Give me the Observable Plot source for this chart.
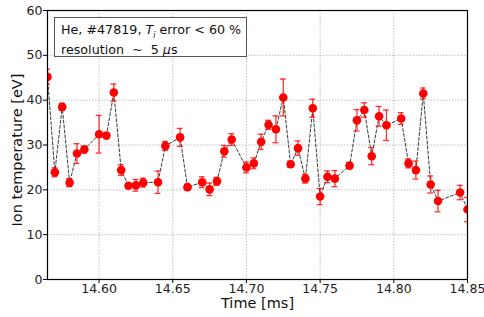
<!DOCTYPE html>
<html><head><meta charset="utf-8">
<script src="https://cdn.jsdelivr.net/npm/d3@7"></script>
<script src="https://cdn.jsdelivr.net/npm/@observablehq/plot@0.6"></script>
<style>
body{margin:0;background:#fff;font-family:"DejaVu Sans",sans-serif;}
#wrap{position:relative;width:484px;height:317px;}
#legend{position:absolute;left:54px;top:17px;width:179px;height:28px;border:1px solid #555;background:#fff;font-size:12.7px;line-height:14px;padding:5px 6px 5px 6px;color:#111;white-space:nowrap;}
</style>
</head><body>
<div id="wrap"><div id="legend">He, #47819, <i>T<sub style="font-size:8px">i</sub></i> error &lt; 60 %<br>resolution &nbsp;~&nbsp; 5 <i>μ</i>s</div></div>
<script>
const times = [14.565,14.570,14.575,14.580,14.585,14.590,14.600,14.605,14.610,14.615,14.620,14.625,14.630,14.640,14.645,14.655,14.660,14.670,14.675,14.680,14.685,14.690,14.700,14.705,14.710,14.715,14.720,14.725,14.730,14.735,14.740,14.745,14.750,14.755,14.760,14.770,14.775,14.780,14.785,14.790,14.795,14.805,14.810,14.815,14.820,14.825,14.830,14.845,14.850];
const temps = [45.2,23.9,38.5,21.6,28.1,29.0,32.4,32.1,41.7,24.4,20.9,21.0,21.6,21.7,29.8,31.7,20.6,21.7,20.1,21.9,28.6,31.2,25.0,25.9,30.7,34.5,33.5,40.6,25.7,29.3,22.5,38.2,18.5,22.9,22.5,25.4,35.5,37.8,27.5,36.4,34.4,35.9,25.9,24.4,41.5,21.2,17.5,19.4,15.6];
const errors = [1.7,1.0,0.8,0.9,2.2,0.8,4.2,0.5,1.9,1.2,0.5,1.3,1.0,2.5,1.0,2.0,0.6,1.2,1.4,0.9,1.3,1.3,1.2,1.2,1.7,1.0,3.0,4.1,0.7,1.6,1.0,2.0,1.8,1.3,1.8,0.7,2.4,1.6,1.9,2.2,3.4,1.3,1.0,2.0,1.2,1.9,2.4,1.6,2.7];
const xTicks = [14.60,14.65,14.70,14.75,14.80,14.85];
const yTicks = [0,10,20,30,40,50,60];

const data = times.map((t,i)=>({t, T: temps[i], e: errors[i]}));
const capHalf = 0.002;

const chart = Plot.plot({
  width:484, height:317, marginLeft:47, marginRight:17, marginTop:10, marginBottom:38,
  style:{fontFamily:"DejaVu Sans", fontSize:"12.5px", color:"#222", background:"white"},
  x:{domain:[14.565,14.85]},
  y:{domain:[0,60]},
  marks:[
    Plot.gridX(xTicks,{stroke:"#b0b0b0", strokeOpacity:1, strokeDasharray:"1.5,1.5", strokeWidth:0.8}),
    Plot.gridY(yTicks.slice(1,-1),{stroke:"#b0b0b0", strokeOpacity:1, strokeDasharray:"1.5,1.5", strokeWidth:0.8}),
    Plot.line(data,{x:"t",y:"T",stroke:"#222",strokeWidth:0.9,strokeDasharray:"3,2",clip:true}),
    Plot.ruleX(data,{x:"t",y1:d=>d.T-d.e,y2:d=>d.T+d.e,stroke:"red",strokeOpacity:0.8,strokeWidth:1.3,clip:true}),
    Plot.ruleY(data,{y:d=>d.T+d.e,x1:d=>d.t-capHalf,x2:d=>d.t+capHalf,stroke:"red",strokeOpacity:0.8,strokeWidth:1.3,clip:true}),
    Plot.ruleY(data,{y:d=>d.T-d.e,x1:d=>d.t-capHalf,x2:d=>d.t+capHalf,stroke:"red",strokeOpacity:0.8,strokeWidth:1.3,clip:true}),
    Plot.dot(data,{x:"t",y:"T",r:4.3,fill:"red",stroke:"none",clip:true}),
    Plot.frame({stroke:"black", strokeWidth:1.2}),
    Plot.axisX({ticks:xTicks, tickSize:4, tickPadding:1, tickFormat:d3.format(".2f"), label:null, stroke:"black"}),
    Plot.axisY({ticks:yTicks, tickSize:4, tickPadding:1, label:null, stroke:"black"}),
    Plot.text(["Time [ms]"],{frameAnchor:"bottom", dy:24, textAnchor:"middle", lineAnchor:"middle", fontSize:14.5, fill:"#111"}),
    Plot.text(["Ion temperature [eV]"],{frameAnchor:"left", dx:-30, dy:5, textAnchor:"middle", lineAnchor:"middle", rotate:-90, fontSize:14.5, fill:"#111"})
  ]
});
document.getElementById("wrap").prepend(chart);
</script>
</body></html>
